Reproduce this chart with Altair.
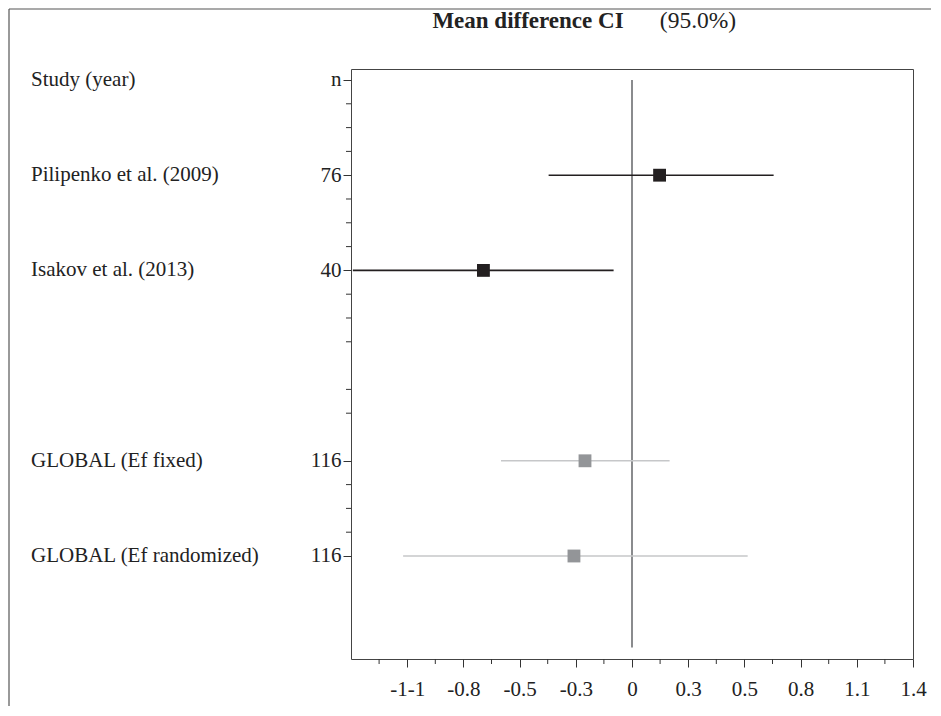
import altair as alt
import pandas as pd

# ---------------- data ----------------
study_names = ["Pilipenko et al. (2009)", "Isakov et al. (2013)",
               "GLOBAL (Ef fixed)", "GLOBAL (Ef randomized)"]
study_rows = [1, 2, 4, 5]
n_values = ["76", "40", "116", "116"]
mean_diff = [0.135, -0.727, -0.230, -0.284]
ci_low = [-0.408, -1.366, -0.641, -1.120]
ci_high = [0.693, -0.090, 0.184, 0.566]
kind = ["study", "study", "global", "global"]

header_name = "Study (year)"
header_n = "n"
header_row = 0

x_label_values = [-1.1, -0.825, -0.55, -0.275, 0.0, 0.275, 0.55, 0.825, 1.1, 1.375]
x_labels = ["-1-1", "-0.8", "-0.5", "-0.3", "0", "0.3", "0.5", "0.8", "1.1", "1.4"]
x_minor_ticks = [-1.2375, -0.9625, -0.6875, -0.4125, -0.1375,
                 0.1375, 0.4125, 0.6875, 0.9625, 1.2375]
y_major_ticks = [0, 1, 2, 4, 5]
y_minor_ticks = [0.25, 0.5, 0.75, 1.25, 1.5, 1.75, 2.25, 2.5, 2.75,
                 3.25, 3.5, 4.25, 4.5, 4.75]
zero_line_end = 5.96

x_domain = [-1.375, 1.375]
y_domain = [-0.1155, 6.082]

# ---------------- tables ----------------
df = pd.DataFrame({
    "name": study_names, "row": study_rows, "n": n_values,
    "mean": mean_diff, "lo": ci_low, "hi": ci_high, "kind": kind,
})
labels_df = pd.DataFrame({"name": [header_name] + study_names,
                          "row": [header_row] + study_rows})
y_label_map = dict(zip([header_row] + study_rows, [header_n] + n_values))

x_expr = "".join(
    f"abs(datum.value - ({v})) < 0.001 ? '{t}' : " for v, t in zip(x_label_values, x_labels)
) + "''"
y_expr = "".join(
    f"abs(datum.value - {r}) < 0.001 ? '{t}' : " for r, t in y_label_map.items()
) + "''"

FONT = "Liberation Serif"
W, H = 562, 590
TICK = "#333333"

xscale = alt.Scale(domain=x_domain, nice=False, zero=False)
yscale = alt.Scale(domain=y_domain, nice=False, zero=False, reverse=True)

xaxis = alt.Axis(
    values=x_label_values, labelExpr=x_expr, title=None, grid=False, domain=False,
    tickColor=TICK, tickWidth=1, tickSize=8,
    labelFont=FONT, labelFontSize=21, labelColor="#222222", labelPadding=11,
    labelFlush=False, labelOverlap=False,
)
yaxis = alt.Axis(
    values=y_major_ticks, labelExpr=y_expr, title=None, grid=False, domain=False,
    tickColor=TICK, tickWidth=1, tickSize=8,
    labelFont=FONT, labelFontSize=21, labelColor="#222222", labelPadding=2,
    labelOverlap=False,
)

base = alt.Chart(df)

ci = base.mark_rule(strokeWidth=1.6, clip=True).encode(
    x=alt.X("lo:Q", scale=xscale, axis=xaxis),
    x2="hi:Q",
    y=alt.Y("row:Q", scale=yscale, axis=yaxis),
    color=alt.Color("kind:N", scale=alt.Scale(domain=["study", "global"],
                                              range=["#231f20", "#c6c7c9"]), legend=None),
)

pts = base.mark_square(size=165, opacity=1).encode(
    x="mean:Q", y="row:Q",
    fill=alt.Fill("kind:N", scale=alt.Scale(domain=["study", "global"],
                                            range=["#231f20", "#939598"]), legend=None),
)

zero = alt.Chart(pd.DataFrame({"a": [0]})).mark_rule(color="#6d6e71", strokeWidth=1.6).encode(
    x=alt.datum(0), y=alt.datum(header_row), y2=alt.datum(zero_line_end)
)

xminor = alt.Chart(pd.DataFrame({"v": x_minor_ticks})).mark_rule(color=TICK, strokeWidth=1).encode(
    x="v:Q", y=alt.value(H), y2=alt.value(H + 5)
)
yminor = alt.Chart(pd.DataFrame({"v": y_minor_ticks})).mark_rule(color=TICK, strokeWidth=1).encode(
    y="v:Q", x=alt.value(0), x2=alt.value(-5)
)

names = alt.Chart(labels_df).mark_text(
    align="left", baseline="middle", font=FONT, fontSize=21, color="#222222"
).encode(x=alt.value(-320), y="row:Q", text="name:N")

one = pd.DataFrame({"a": [0]})
title1 = alt.Chart(one).mark_text(
    align="center", baseline="middle", font=FONT, fontSize=23, fontWeight="bold",
    color="#222222", text="Mean difference CI"
).encode(x=alt.value(177), y=alt.value(-48))
title2 = alt.Chart(one).mark_text(
    align="center", baseline="middle", font=FONT, fontSize=23.5, color="#222222",
    text="(95.0%)"
).encode(x=alt.value(347), y=alt.value(-48))

frame_left = alt.Chart(one).mark_rule(color="#555555", strokeWidth=1.2).encode(
    x=alt.value(-342), y=alt.value(-60), y2=alt.value(637)
)
frame_top = alt.Chart(one).mark_rule(color="#555555", strokeWidth=1.2).encode(
    x=alt.value(-342), x2=alt.value(580), y=alt.value(-60)
)

chart = alt.layer(
    zero, ci, pts, xminor, yminor, names, title1, title2, frame_left, frame_top
).properties(
    width=W, height=H, padding=0, background="white"
).configure_view(stroke="#444444", strokeWidth=1)

chart.save("out.html", embed_options={"renderer": "svg", "actions": False})
